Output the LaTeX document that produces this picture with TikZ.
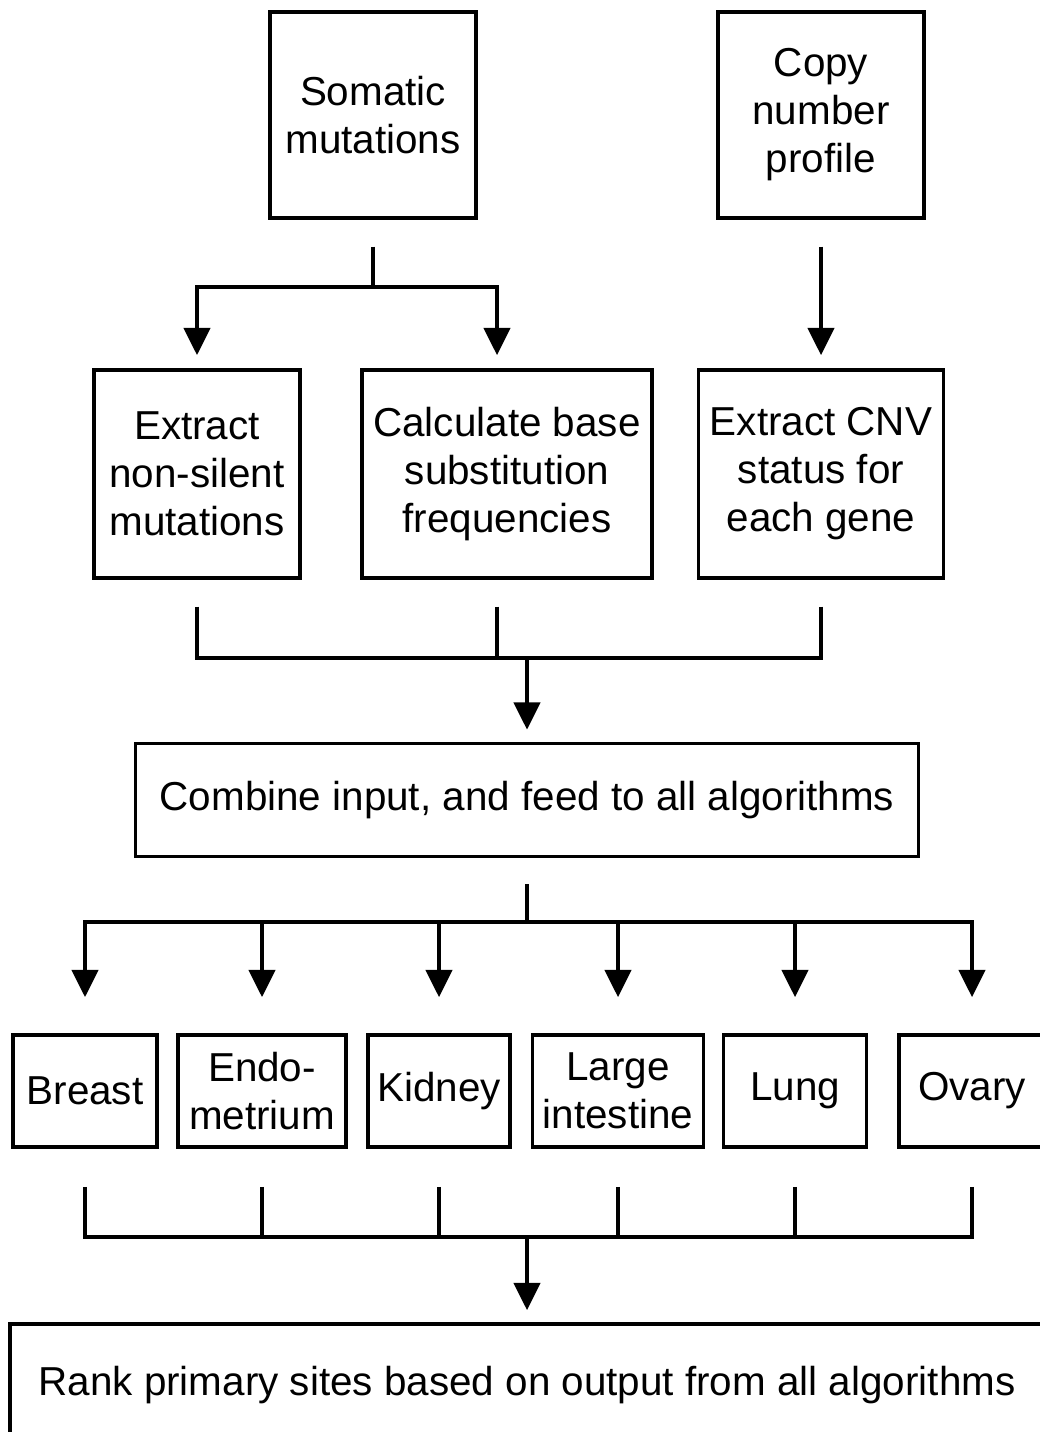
\documentclass[tikz,border=0pt]{standalone}
\usepackage{fontspec}
\setmainfont{Liberation Sans}
\usetikzlibrary{arrows.meta}

\begin{document}
\begin{tikzpicture}[x=0.02cm,y=-0.02cm,
    box/.style={draw,line width=2pt,align=center,inner sep=0pt,
        font=\fontsize{23}{27.3}\selectfont},
    link/.style={line width=2.8pt},
    arr/.style={link,-{Triangle[width=0.52cm,length=0.55cm]}}]
    \useasboundingbox (0,0) rectangle (1039,1432);

    % inputs
    \node[box,minimum width=4.12cm,minimum height=4.12cm] (som) at (373,115) {Somatic\\mutations};
    \node[box,minimum width=4.12cm,minimum height=4.12cm] (cnp) at (821,115) {Copy\\number\\profile};

    % preprocessing
    \node[box,minimum width=4.12cm,minimum height=4.16cm] (nsil) at (197,474) {Extract\\non-silent\\mutations};
    \node[box,minimum width=5.8cm,minimum height=4.16cm] (subst) at (507,474) {Calculate base\\substitution\\frequencies};
    \node[box,minimum width=4.9cm,minimum height=4.16cm] (cnv) at (821,474) {Extract CNV\\status for\\each gene};

    \node[box,minimum width=15.66cm,minimum height=2.26cm] (comb) at (527,800) {Combine input, and feed to all algorithms};

    % one algorithm per site
    \node[box,minimum width=2.88cm,minimum height=2.24cm] (breast) at (85,1091) {Breast};
    \node[box,minimum width=3.36cm,minimum height=2.24cm] (endo) at (262,1091) {Endo-\\metrium};
    \node[box,minimum width=2.84cm,minimum height=2.24cm] (kidney) at (439,1091) {Kidney};
    \node[box,minimum width=3.42cm,minimum height=2.24cm] (large) at (618,1091) {Large\\intestine};
    \node[box,minimum width=2.86cm,minimum height=2.24cm] (lung) at (795,1091) {Lung};
    \node[box,minimum width=2.92cm,minimum height=2.24cm] (ovary) at (972,1091) {Ovary};

    \node[box,minimum width=20.68cm,minimum height=2.44cm] (rank) at (527,1385) {Rank primary sites based on output from all algorithms};

    % connectors
    \coordinate (j1) at (373,287);
    \draw[link] ([yshift=-0.54cm]som.south) -- (j1);
    \draw[arr] (j1) -| ([yshift=0.26cm]nsil.north);
    \draw[arr] (j1) -| ([xshift=-0.2cm,yshift=0.26cm]subst.north);
    \draw[arr] ([yshift=-0.54cm]cnp.south) -- ([yshift=0.26cm]cnv.north);

    \coordinate (j2) at (527,658);
    \draw[link] ([yshift=-0.54cm]nsil.south) |- (j2);
    \draw[link] ([yshift=-0.54cm]cnv.south) |- (j2);
    \draw[link] ([xshift=-0.2cm,yshift=-0.54cm]subst.south) -- ++(0,53);
    \draw[arr] (j2) -- ([yshift=0.24cm]comb.north);

    \coordinate (j3) at (527,922);
    \draw[link] ([yshift=-0.52cm]comb.south) -- (j3);
    \foreach \site in {breast,endo,kidney,large,lung,ovary}
        \draw[arr] (j3) -| ([yshift=0.72cm]\site.north);

    \coordinate (j4) at (527,1237);
    \foreach \site in {breast,endo,kidney,large,lung,ovary}
        \draw[link] ([yshift=-0.76cm]\site.south) |- (j4);
    \draw[arr] (j4) -- ([yshift=0.24cm]rank.north);
\end{tikzpicture}
\end{document}
